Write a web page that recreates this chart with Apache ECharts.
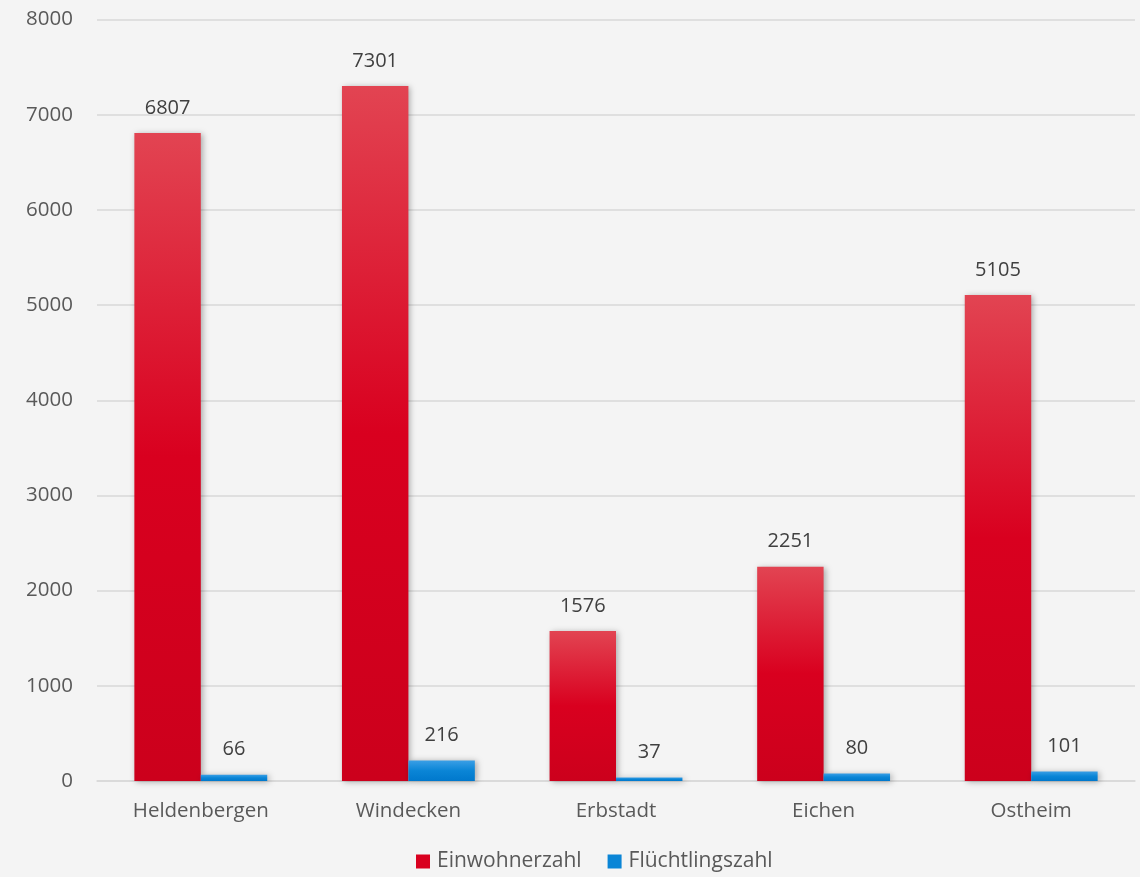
<!DOCTYPE html>
<html><head><meta charset="utf-8">
<script src="https://cdn.jsdelivr.net/npm/echarts@6/dist/echarts.min.js"></script>
<style>html,body{margin:0;padding:0;background:#f4f4f4;}#c{width:1140px;height:877px;}</style>
</head><body><div id="c"></div>
<script>
var categories = ['Heldenbergen','Windecken','Erbstadt','Eichen','Ostheim'];
var einwohner = [6807,7301,1576,2251,5105];
var fluechtlinge = [66,216,37,80,101];
var yTicks = [0,1000,2000,3000,4000,5000,6000,7000,8000];
var font = '"Open Sans", sans-serif';
var chart = echarts.init(document.getElementById('c'));
var red = new echarts.graphic.LinearGradient(0,0,0,1,[{offset:0,color:'#e24452'},{offset:0.5,color:'#d9001f'},{offset:1,color:'#cc001c'}]);
var blue = new echarts.graphic.LinearGradient(0,0,0,1,[{offset:0,color:'#3a9fe6'},{offset:0.5,color:'#0a85d6'},{offset:1,color:'#0078cc'}]);
var shadow = {shadowColor:'rgba(0,0,0,0.3)',shadowBlur:6,shadowOffsetX:2,shadowOffsetY:1};
chart.setOption({
  backgroundColor:'#f4f4f4',
  animation:false,
  grid:{left:97,right:5,top:19.5,bottom:96,containLabel:false},
  legend:{bottom:0,left:411,itemWidth:14,itemHeight:14,itemGap:26,icon:'rect',
    textStyle:{fontFamily:font,fontSize:21,color:'#595959',padding:[0,0,0,2]},
    data:[{name:'Einwohnerzahl',itemStyle:{color:'#d9001f'}},{name:'Flüchtlingszahl',itemStyle:{color:'#0a85d6'}}]},
  xAxis:{type:'category',data:categories,
    axisLine:{lineStyle:{color:'#d9d9d9',width:1.5}},axisTick:{show:false},
    axisLabel:{fontFamily:font,fontSize:20.5,color:'#595959',margin:20}},
  yAxis:{type:'value',min:yTicks[0],max:yTicks[yTicks.length-1],interval:1000,
    axisLine:{show:false},axisTick:{show:false},
    splitLine:{lineStyle:{color:'#d9d9d9',width:1.5}},
    axisLabel:{fontFamily:font,fontSize:20.5,color:'#595959',margin:24,formatter:function(v){return String(v);}}},
  series:[
    {name:'Einwohnerzahl',type:'bar',data:einwohner,barGap:'0%',barCategoryGap:'36%',
     itemStyle:Object.assign({color:red},shadow),
     label:{show:true,position:'top',distance:15,fontFamily:font,fontSize:20,color:'#404040'}},
    {name:'Flüchtlingszahl',type:'bar',data:fluechtlinge,
     itemStyle:Object.assign({color:blue},shadow),
     label:{show:true,position:'top',distance:15,fontFamily:font,fontSize:20,color:'#404040'}}
  ]
});
</script></body></html>
